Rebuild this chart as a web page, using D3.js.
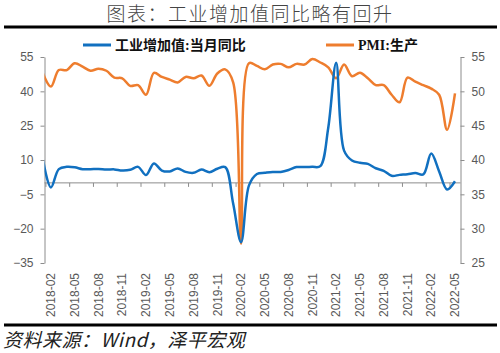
<!DOCTYPE html>
<html lang="zh">
  <head>
    <meta charset="UTF-8" />
    <title>工业增加值同比略有回升</title>
    <script src="https://cdn.jsdelivr.net/npm/d3@7"></script>
    <style>
      body { margin: 0; background: #fff; }
    </style>
  </head>
  <body>
    <div id="chart"></div>
    <script>
      // monthly categories, 2018-01 .. 2022-05
      const months = [
        '2018-01', '2018-02', '2018-03', '2018-04', '2018-05', '2018-06', '2018-07', '2018-08', '2018-09', '2018-10', '2018-11', '2018-12',
        '2019-01', '2019-02', '2019-03', '2019-04', '2019-05', '2019-06', '2019-07', '2019-08', '2019-09', '2019-10', '2019-11', '2019-12',
        '2020-01', '2020-02', '2020-03', '2020-04', '2020-05', '2020-06', '2020-07', '2020-08', '2020-09', '2020-10', '2020-11', '2020-12',
        '2021-01', '2021-02', '2021-03', '2021-04', '2021-05', '2021-06', '2021-07', '2021-08', '2021-09', '2021-10', '2021-11', '2021-12',
        '2022-01', '2022-02', '2022-03', '2022-04', '2022-05'
      ]
      // 工业增加值:当月同比 (left axis, %)
      const ivaYoy = [
        10.0, -2.0, 6.0, 7.0, 6.8, 6.0, 6.0, 6.1, 5.8, 5.9, 5.4, 5.7,
        7.0, 3.4, 8.5, 5.4, 5.0, 6.3, 4.8, 4.4, 5.8, 4.7, 6.2, 6.9,
        -9.0, -25.9, -1.1, 3.9, 4.4, 4.8, 4.8, 5.6, 6.9, 6.9, 7.0, 7.3,
        24.0, 52.5, 14.1, 9.8, 8.8, 8.3, 6.4, 5.3, 3.1, 3.5, 3.8, 4.3,
        3.7, 12.8, 5.0, -2.9, 0.7
      ]
      // PMI:生产 (right axis)
      const pmiOutput = [
        52.6, 50.7, 53.1, 53.1, 54.1, 53.6, 53.0, 53.3, 53.0, 52.0, 51.9, 50.8,
        50.9, 49.5, 52.7, 52.1, 51.7, 51.3, 52.1, 51.9, 52.3, 50.8, 52.6, 53.2,
        51.3, 27.8, 54.1, 53.7, 53.2, 53.9, 54.0, 53.5, 54.0, 53.9, 54.7, 54.2,
        53.5, 51.9, 53.9, 52.2, 52.7, 51.9, 50.9, 50.9, 49.5, 48.4, 52.0, 51.4,
        50.9, 50.4, 49.5, 44.4, 49.7
      ]
      const xTickLabels = [
        '2018-02', '2018-05', '2018-08', '2018-11', '2019-02', '2019-05', '2019-08', '2019-11', '2020-02',
        '2020-05', '2020-08', '2020-11', '2021-02', '2021-05', '2021-08', '2021-11', '2022-02', '2022-05'
      ]
      const leftTicks = [-35, -20, -5, 10, 25, 40, 55]
      const rightTicks = [25, 30, 35, 40, 45, 50, 55]
      const seriesNames = ['工业增加值:当月同比', 'PMI:生产']
      const titleText = '图表：工业增加值同比略有回升'
      const sourceText = '资料来源：Wind，泽平宏观'

      const width = 500
      const height = 353
      const plotLeft = 44.5
      const plotRight = 460.5
      const axisColor = '#8c8c8c'
      const labelColor = '#595959'
      const blue = '#1170c0'
      const orange = '#ee7d2e'

      const svg = d3
        .select('#chart')
        .append('svg')
        .attr('width', width)
        .attr('height', height)
        .style('font-family', '"Liberation Sans", Arial, sans-serif')

      const x = d3.scaleLinear().domain([0, months.length - 1]).range([43, 455])
      const yL = d3.scaleLinear().domain([-35, 55]).range([263, 57])
      const yR = d3.scaleLinear().domain([25, 55]).range([263, 57])

      // title + rules
      svg.append('text')
        .attr('x', 250).attr('y', 21)
        .attr('text-anchor', 'middle')
        .style('font-family', '"Noto Sans CJK SC", sans-serif')
        .style('font-size', '19px')
        .style('font-weight', 300)
        .style('letter-spacing', '1.5px')
        .attr('fill', '#444')
        .text(titleText)

      svg.selectAll('.rule')
        .data([27, 325])
        .join('line')
        .attr('class', 'rule')
        .attr('x1', 4).attr('x2', 497)
        .attr('y1', d => d).attr('y2', d => d)
        .attr('stroke', '#000')
        .attr('stroke-width', 3)

      // left axis
      const gL = svg.append('g')
        .attr('transform', `translate(${plotLeft},0)`)
        .call(d3.axisLeft(yL).tickValues(leftTicks).tickSize(4).tickSizeOuter(0).tickPadding(7))
      // right axis
      const gR = svg.append('g')
        .attr('transform', `translate(${plotRight},0)`)
        .call(d3.axisRight(yR).tickValues(rightTicks).tickSize(4).tickSizeOuter(0).tickPadding(7))

      ;[gL, gR].forEach(g => {
        g.select('.domain').attr('stroke', axisColor)
        g.selectAll('.tick line').attr('stroke', axisColor)
        g.selectAll('.tick text')
          .attr('fill', labelColor)
          .style('font-size', '12px')
          .style('font-family', '"Liberation Sans", Arial, sans-serif')
      })

      // category axis sitting on zero of the left scale
      const y0 = yL(0)
      svg.append('line')
        .attr('x1', plotLeft).attr('x2', plotRight)
        .attr('y1', y0).attr('y2', y0)
        .attr('stroke', axisColor)

      const labelIdx = xTickLabels.map(m => months.indexOf(m))

      svg.selectAll('.xtick')
        .data(labelIdx)
        .join('line')
        .attr('class', 'xtick')
        .attr('x1', i => x(i) - 5).attr('x2', i => x(i) - 5)
        .attr('y1', y0).attr('y2', y0 + 4)
        .attr('stroke', axisColor)

      svg.selectAll('.xlabel')
        .data(labelIdx)
        .join('text')
        .attr('class', 'xlabel')
        .attr('transform', i => `translate(${x(i)},273) rotate(-90)`)
        .attr('text-anchor', 'end')
        .attr('dy', '0.35em')
        .attr('fill', labelColor)
        .style('font-size', '12px')
        .text(i => months[i])

      // lines
      svg.append('clipPath')
        .attr('id', 'plot-clip')
        .append('rect')
        .attr('x', plotLeft).attr('y', 40)
        .attr('width', plotRight - plotLeft).attr('height', 240)

      const curve = d3.curveCatmullRom.alpha(0.5)
      const lineL = d3.line().x((d, i) => x(i)).y(d => yL(d)).curve(curve)
      const lineR = d3.line().x((d, i) => x(i)).y(d => yR(d)).curve(curve)

      const plot = svg.append('g').attr('clip-path', 'url(#plot-clip)')
      plot.append('path')
        .datum(pmiOutput)
        .attr('d', lineR)
        .attr('fill', 'none')
        .attr('stroke', orange)
        .attr('stroke-width', 2.5)
      plot.append('path')
        .datum(ivaYoy)
        .attr('d', lineL)
        .attr('fill', 'none')
        .attr('stroke', blue)
        .attr('stroke-width', 2.5)

      // legend
      const legend = [
        { name: seriesNames[0], color: blue, x: 83 },
        { name: seriesNames[1], color: orange, x: 326 }
      ]
      const lg = svg.selectAll('.legend')
        .data(legend)
        .join('g')
        .attr('class', 'legend')
        .attr('transform', d => `translate(${d.x},45)`)
      lg.append('line')
        .attr('x1', 0).attr('x2', 28)
        .attr('stroke', d => d.color)
        .attr('stroke-width', 3)
      lg.append('text')
        .attr('x', 32).attr('y', 5)
        .style('font-family', '"Liberation Serif", "Noto Sans CJK SC", serif')
        .style('font-weight', 'bold')
        .style('font-size', '14px')
        .attr('fill', '#111')
        .text(d => d.name)

      // source
      svg.append('text')
        .attr('x', 3).attr('y', 347)
        .style('font-family', '"Noto Sans CJK SC", sans-serif')
        .style('font-style', 'italic')
        .style('font-size', '19px')
        .style('letter-spacing', '0.5px')
        .attr('fill', '#222')
        .text(sourceText)
    </script>
  </body>
</html>
